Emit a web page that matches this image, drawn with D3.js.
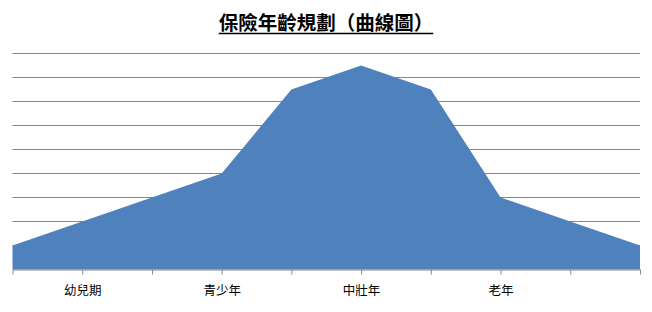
<!DOCTYPE html>
<html lang="zh-Hant">
<head>
  <meta charset="UTF-8">
  <title>保險年齡規劃(曲線圖)</title>
  <script src="https://d3js.org/d3.v7.min.js"></script>
  <style>
    body {
      margin: 0;
      background: #fff;
    }
    .grid line {
      stroke: #868686;
      stroke-width: 1;
    }
    .x-axis path, .x-axis line {
      stroke: #868686;
    }
    .x-axis text {
      font-family: "Noto Sans CJK TC", sans-serif;
      font-size: 12.5px;
      fill: #000;
    }
  </style>
</head>
<body>
  <svg width="652" height="312"></svg>
  <script>
    // one value per category tick; only every other tick carries a label
    const categories = ["", "幼兒期", "", "青少年", "", "中壯年", "", "老年", "", ""];
    const values = [1, 2, 3, 4, 7.5, 8.5, 7.5, 3, 2, 1];
    const gridTicks = [1, 2, 3, 4, 5, 6, 7, 8, 9];

    const svg = d3.select("svg"),
          margin = {top: 53.5, right: 12, bottom: 42.5, left: 12.5},
          width = +svg.attr("width") - margin.left - margin.right,
          height = +svg.attr("height") - margin.top - margin.bottom,
          g = svg.append("g").attr("transform", `translate(${margin.left},${margin.top})`);

    const idx = d3.range(categories.length);

    const x = d3.scalePoint()
      .domain(idx)
      .range([0, width]);

    const y = d3.scaleLinear()
      .domain([0, 9])
      .range([height, 0]);

    // horizontal gridlines
    g.append("g")
      .attr("class", "grid")
      .selectAll("line")
      .data(gridTicks)
      .join("line")
      .attr("x1", 0)
      .attr("x2", width)
      .attr("y1", d => y(d))
      .attr("y2", d => y(d));

    // area
    const area = d3.area()
      .x((d, i) => x(i))
      .y0(y(0))
      .y1(d => y(d));

    g.append("path")
      .datum(values)
      .attr("fill", "#4F81BD")
      .attr("d", area);

    // category axis
    g.append("g")
      .attr("class", "x-axis")
      .attr("transform", `translate(0,${height})`)
      .call(d3.axisBottom(x)
        .tickSize(5)
        .tickSizeOuter(0)
        .tickPadding(12)
        .tickFormat(i => categories[i]));

    // title with underline
    const title = svg.append("text")
      .attr("x", 326)
      .attr("y", 30)
      .attr("text-anchor", "middle")
      .attr("font-family", "'Noto Sans CJK TC', serif")
      .attr("font-weight", "bold")
      .attr("font-size", "19.5px")
      .attr("fill", "#000")
      .text("保險年齡規劃（曲線圖）");

    const tb = title.node().getBBox();
    svg.append("line")
      .attr("x1", tb.x)
      .attr("x2", tb.x + tb.width)
      .attr("y1", 33.5)
      .attr("y2", 33.5)
      .attr("stroke", "#000")
      .attr("stroke-width", 1.5);
  </script>
</body>
</html>
